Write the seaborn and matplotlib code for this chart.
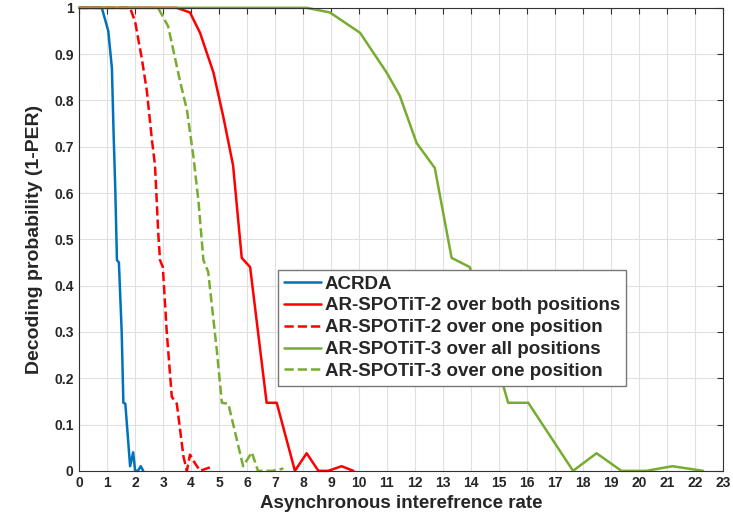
import numpy as np
import pandas as pd
import seaborn as sns
import matplotlib
matplotlib.use('Agg')
import matplotlib.pyplot as plt

# 数据
acrda_x = [0, 0.81, 1.04, 1.17, 1.23, 1.29, 1.35, 1.42, 1.52, 1.58, 1.65, 1.82, 1.93, 2.0, 2.1, 2.2, 2.29]
acrda_y = [1, 1, 0.95, 0.87, 0.73, 0.61, 0.455, 0.45, 0.30, 0.147, 0.145, 0.01, 0.04, 0.0, 0.0, 0.01, 0.0]

sp2_both_x = [0, 3.49, 3.96, 4.32, 4.8, 5.15, 5.5, 5.81, 6.11, 6.7, 7.06, 7.71, 8.13, 8.55, 8.9, 9.38, 9.8]
sp2_both_y = [1, 1, 0.99, 0.946, 0.86, 0.765, 0.66, 0.46, 0.44, 0.147, 0.147, 0.0, 0.038, 0.0, 0.0, 0.01, 0.0]

sp2_one_x = [0, 1.82, 2.0, 2.24, 2.42, 2.6, 2.71, 2.83, 2.89, 2.99, 3.13, 3.31, 3.49, 3.73, 3.85, 3.96, 4.1, 4.32, 4.79]
sp2_one_y = [1, 1, 0.97, 0.89, 0.82, 0.715, 0.66, 0.51, 0.455, 0.44, 0.30, 0.16, 0.145, 0.03, 0.0, 0.035, 0.02, 0.0, 0.01]

sp3_all_x = [0, 8.13, 8.96, 10.04, 10.99, 11.46, 12.06, 12.71, 13.31, 13.96, 15.33, 16.05, 17.65, 18.49, 19.38, 20.27, 21.2, 22.3]
sp3_all_y = [1, 1, 0.99, 0.946, 0.86, 0.81, 0.708, 0.654, 0.46, 0.44, 0.147, 0.147, 0.0, 0.038, 0.0, 0.0, 0.01, 0.0]

sp3_one_x = [0, 2.82, 3.18, 3.61, 3.85, 4.08, 4.26, 4.44, 4.61, 4.92, 5.1, 5.33, 5.86, 6.17, 6.39, 6.9, 7.3]
sp3_one_y = [1, 1, 0.96, 0.84, 0.78, 0.68, 0.585, 0.455, 0.43, 0.26, 0.147, 0.145, 0.01, 0.04, 0.0, 0.0, 0.005]

labels = ['ACRDA', 'AR-SPOTiT-2 over both positions', 'AR-SPOTiT-2 over one position',
          'AR-SPOTiT-3 over all positions', 'AR-SPOTiT-3 over one position']

sns.set_style('whitegrid')
plt.rcParams['font.family'] = ['Liberation Sans', 'DejaVu Sans']
plt.rcParams['font.weight'] = 'bold'

fig = plt.figure(figsize=(7.33, 5.22), dpi=100)
ax = fig.add_axes([0.108, 0.098, 0.878, 0.887])

series = [
    (acrda_x, acrda_y, '#0072BD', '-'),
    (sp2_both_x, sp2_both_y, '#FF0000', '-'),
    (sp2_one_x, sp2_one_y, '#FF0000', '--'),
    (sp3_all_x, sp3_all_y, '#77AC30', '-'),
    (sp3_one_x, sp3_one_y, '#77AC30', '--'),
]
for (x, y, c, ls), lab in zip(series, labels):
    df = pd.DataFrame({'x': x, 'y': y})
    sns.lineplot(data=df, x='x', y='y', sort=False, color=c, linestyle=ls,
                 linewidth=1.8, label=lab, ax=ax, clip_on=False)

ax.set_xlim(0, 23)
ax.set_ylim(0, 1)
ax.set_xticks(np.arange(0, 24, 1))
ax.set_yticks(np.arange(0, 1.01, 0.1))
ax.set_yticklabels(['0', '0.1', '0.2', '0.3', '0.4', '0.5', '0.6', '0.7', '0.8', '0.9', '1'])
ax.tick_params(direction='in', length=4, top=True, right=True, labelsize=10,
               color='#333333', pad=4)
for t in ax.get_xticklabels() + ax.get_yticklabels():
    t.set_fontweight('bold')
ax.grid(True, color='#e0e0e0', linewidth=0.8)
for s in ax.spines.values():
    s.set_color('#333333')
    s.set_linewidth(0.8)

ax.set_xlabel('Asynchronous interefrence rate', fontsize=13.5, fontweight='bold', labelpad=3)
ax.set_ylabel('Decoding probability (1-PER)', fontsize=14, fontweight='bold', labelpad=8)

leg = ax.legend(loc='upper left', bbox_to_anchor=(0.309, 0.434), fontsize=13.5,
                frameon=True, fancybox=False, framealpha=1, edgecolor='#777777',
                handlelength=2.0, handletextpad=0.2, borderpad=0.3, labelspacing=0.25,
                borderaxespad=0)
for t in leg.get_texts():
    t.set_fontweight('bold')

fig.savefig('out.png', dpi=100)
